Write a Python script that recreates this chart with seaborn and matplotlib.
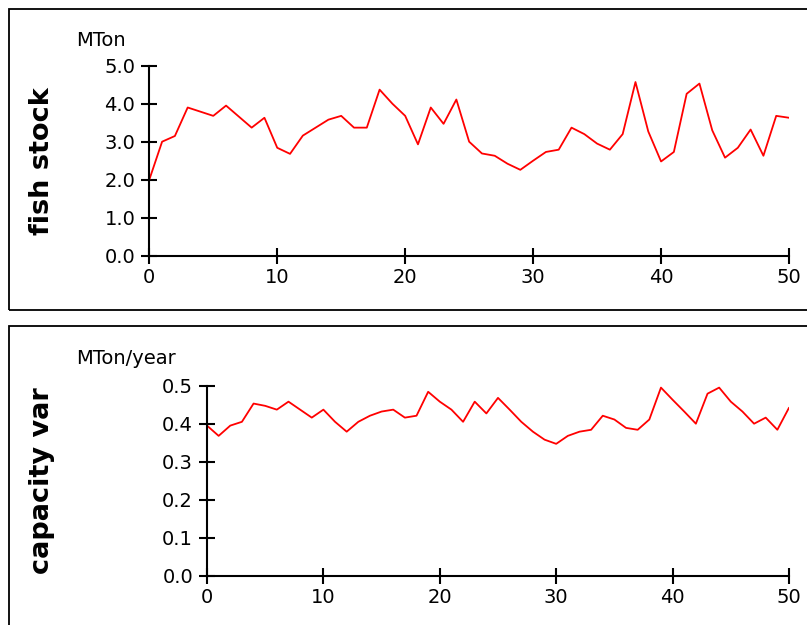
import matplotlib
matplotlib.use("Agg")
import matplotlib.pyplot as plt
import seaborn as sns
import pandas as pd
from matplotlib.patches import Rectangle

years = list(range(51))
fish_stock = [2.0, 3.0, 3.15, 3.9, 3.79, 3.68, 3.95, 3.66, 3.37, 3.63,
              2.84, 2.68, 3.16, 3.37, 3.58, 3.68, 3.37, 3.37, 4.37, 4.0,
              3.68, 2.93, 3.9, 3.47, 4.11, 3.0, 2.69, 2.63, 2.42, 2.26,
              2.5, 2.73, 2.79, 3.37, 3.2, 2.95, 2.79, 3.2, 4.57, 3.27,
              2.48, 2.73, 4.26, 4.53, 3.3, 2.58, 2.84, 3.32, 2.63, 3.68, 3.63]
capacity_var = [0.395, 0.368, 0.395, 0.405, 0.453, 0.447, 0.437, 0.458, 0.437, 0.416,
                0.437, 0.405, 0.379, 0.405, 0.421, 0.432, 0.437, 0.416, 0.421, 0.484,
                0.458, 0.437, 0.405, 0.458, 0.427, 0.468, 0.437, 0.405, 0.379, 0.358,
                0.347, 0.368, 0.379, 0.384, 0.421, 0.411, 0.389, 0.384, 0.411, 0.495,
                0.463, 0.432, 0.400, 0.479, 0.495, 0.458, 0.432, 0.400, 0.416, 0.384, 0.442]

x_ticks = [0, 10, 20, 30, 40, 50]
fish_ticks = [0.0, 1.0, 2.0, 3.0, 4.0, 5.0]
fish_ticklabels = ["0.0", "1.0", "2.0", "3.0", "4.0", "5.0"]
cap_ticks = [0.0, 0.1, 0.2, 0.3, 0.4, 0.5]
cap_ticklabels = ["0.0", "0.1", "0.2", "0.3", "0.4", "0.5"]

sns.set_style("white")
plt.rcParams['font.family'] = ['DejaVu Sans']
plt.rcParams['text.color'] = 'black'

W, H = 807, 625
fig = plt.figure(figsize=(W / 100, H / 100), dpi=100)

# panel frames
for (y0, y1) in [(9, 310), (326, 640)]:
    fig.patches.append(Rectangle((9 / W, 1 - y1 / H), (815 - 9) / W, (y1 - y0) / H,
                                 transform=fig.transFigure, fill=False,
                                 edgecolor='black', linewidth=1.3))

def setup(ax, xs, ys, yticks, yticklabels, ymax, ylabel, unit, unit_y, label_x):
    df = pd.DataFrame({"t": xs, "v": ys})
    sns.lineplot(data=df, x="t", y="v", ax=ax, color="#ff0000", linewidth=1.3)
    ax.set_xlim(0, 50)
    ax.set_ylim(0, ymax)
    ax.set_xticks(x_ticks)
    ax.set_xticklabels([str(t) for t in x_ticks])
    ax.set_yticks(yticks)
    ax.set_yticklabels(yticklabels)
    for s in ["top", "right"]:
        ax.spines[s].set_visible(False)
    for s in ["left", "bottom"]:
        ax.spines[s].set_linewidth(1.5)
        ax.spines[s].set_color("black")
    ax.tick_params(axis="both", direction="inout", length=12, width=1.5,
                   labelsize=14, colors="black", bottom=True, left=True)
    ax.tick_params(axis="x", pad=3)
    ax.tick_params(axis="y", pad=4)
    ax.set_xlabel("")
    ax.set_ylabel("")
    ax.patch.set_alpha(0)
    fig.text(label_x / W, 1 - unit_y / H, unit, fontsize=14, va="center", ha="left",
             color="black")
    pos = ax.get_position()
    fig.text(42 / W, pos.y0 + pos.height / 2, ylabel,
             rotation=90, fontsize=19.5, fontweight="bold", va="center", ha="center",
             color="black")

ax1 = fig.add_axes([149.3 / W, 1 - 255.7 / H, (789 - 149.3) / W, 190 / H])
setup(ax1, years, fish_stock, fish_ticks, fish_ticklabels, 5.0, "fish stock", "MTon", 40, 76)

ax2 = fig.add_axes([207 / W, 1 - 575.7 / H, (789 - 207) / W, 190 / H])
setup(ax2, years, capacity_var, cap_ticks, cap_ticklabels, 0.5, "capacity var", "MTon/year", 358, 76)

fig.savefig("out.png", dpi=100)
